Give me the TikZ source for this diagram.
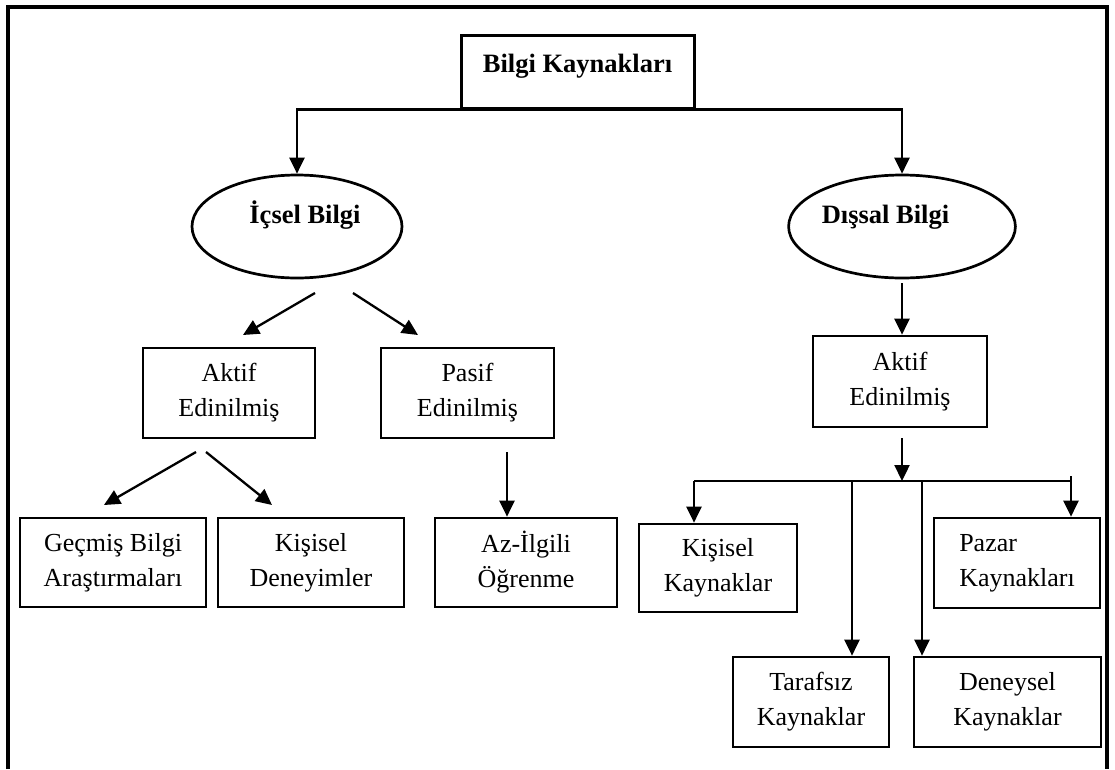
\documentclass[tikz,border=0pt]{standalone}
\usepackage{fontspec}
\setmainfont{Liberation Serif}
\usetikzlibrary{arrows.meta,shapes.geometric}
\begin{document}
\begin{tikzpicture}[x=1pt,y=-1pt,
  box/.style={draw, line width=2.7pt, inner sep=0pt, align=center,
    font=\fontsize{26}{35}\selectfont},
  size/.style 2 args={minimum width=#1pt, minimum height=#2pt},
  head/.style={font=\fontsize{26.5}{32}\selectfont\bfseries},
  oval/.style={draw, ellipse, line width=2.7pt, inner sep=0pt,
    minimum width=210pt, minimum height=103pt, head,
    text height=18pt, text depth=25pt},
  link/.style={line width=2.3pt, -{Triangle[length=16pt,width=15pt]}},
  wire/.style={line width=2.3pt}]
\useasboundingbox (0,0) rectangle (1115,769);

% outer frame (open at the bottom)
\draw[line width=3.5pt] (8,769) -- (8,7) -- (1107,7) -- (1107,769);

% root and the two branches
\node[box, line width=3pt, size={233}{73}, head, text height=18pt, text depth=17pt]
  (root) at (577.5,71.5) {Bilgi Kaynakları};
\node[oval] (icsel) at (297,226.5) {\hspace*{16pt}İçsel Bilgi};
\node[oval] (dissal) at (902,226.5) {Dışsal Bilgi\hspace*{33pt}};

% internal knowledge
\node[box, size={172}{90}] (aktifA) at (229,393) {Aktif\\Edinilmiş};
\node[box, size={173}{90}] (pasif) at (467.5,393) {Pasif\\Edinilmiş};
\node[box, size={186}{89}] (gecmis) at (113,562.5) {Geçmiş Bilgi\\Araştırmaları};
\node[box, size={186}{89}] (kdeney) at (311,562.5) {Kişisel\\Deneyimler};
\node[box, size={182}{89}] (azilgili) at (526,562.5) {Az-İlgili\\Öğrenme};

% external knowledge
\node[box, size={174}{91}] (aktifB) at (900,381.5) {Aktif\\Edinilmiş};
\node[box, size={158}{88}] (kkay) at (718,568) {Kişisel\\Kaynaklar};
\node[box, size={166}{90}, align=left] (pazar) at (1017,563) {Pazar\\Kaynakları};
\node[box, size={156}{90}] (tarafsiz) at (811,702) {Tarafsız\\Kaynaklar};
\node[box, size={187}{90}] (deneysel) at (1007.5,702) {Deneysel\\Kaynaklar};

% root to branches
\draw[link] (root.south) -| (icsel.north);
\draw[link] (root.south) -| (dissal.north);

% free-standing arrows under the internal branch
\coordinate (ia) at (315,293);   \coordinate (iaT) at (243,335);
\coordinate (ib) at (353,293);   \coordinate (ibT) at (418,335);
\coordinate (aa) at (196,452);   \coordinate (aaT) at (104,505);
\coordinate (ab) at (206,452);   \coordinate (abT) at (272,505);
\coordinate (pa) at (507,452);
\draw[link] (ia) -- (iaT);
\draw[link] (ib) -- (ibT);
\draw[link] (aa) -- (aaT);
\draw[link] (ab) -- (abT);
\draw[link] (pa) -- (pa |- azilgili.north);

% external branch and its distribution bar
\coordinate (da) at (902,283);
\coordinate (db) at (902,438);
\coordinate (busL) at (694,481);
\coordinate (busR) at (1071,481);
\coordinate (busT) at (852,481);
\coordinate (busD) at (922,481);
\coordinate (pz) at (1071,476);
\draw[link] (da) -- (da |- aktifB.north);
\draw[link] (db) -- (db |- busL);
\draw[wire] (busL) -- (busR);
\draw[link] (busL) -- (busL |- kkay.north);
\draw[link] (busT) -- (busT |- tarafsiz.north);
\draw[link] (busD) -- (busD |- deneysel.north);
\draw[link] (pz) -- (pz |- pazar.north);
\end{tikzpicture}
\end{document}
